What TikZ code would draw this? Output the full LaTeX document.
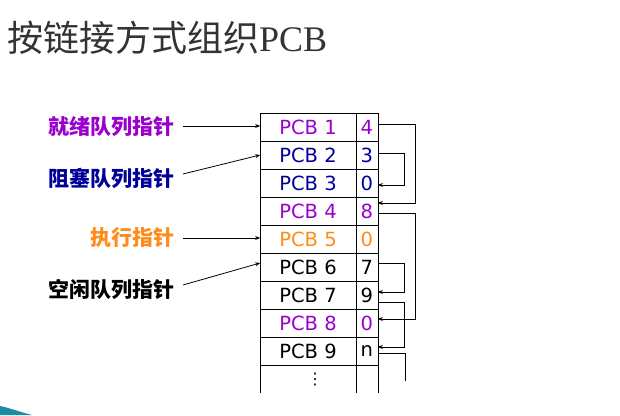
\documentclass[tikz,border=0pt]{standalone}
\usepackage{fontspec}
\setmainfont{DejaVu Sans}
\newfontfamily\cjk{Noto Sans CJK SC}
\newfontfamily\titleserif{Liberation Serif}
\usetikzlibrary{positioning,arrows.meta}
\definecolor{readyc}{HTML}{9900CC}
\definecolor{blockc}{HTML}{000099}
\definecolor{runc}{HTML}{FF8C1A}
\definecolor{titlec}{HTML}{333333}
\definecolor{slidec}{HTML}{1B8BA6}
\tikzstyle{pcbname} = [draw, minimum width=95.7pt, minimum height=28pt, inner sep=0pt, outer sep=0pt, font=\fontsize{19.5}{21}\selectfont]
\tikzstyle{pcbptr} = [draw, minimum width=22pt, minimum height=28pt, inner sep=0pt, outer sep=0pt, font=\fontsize{19.5}{21}\selectfont]
\tikzstyle{qlabel} = [anchor=east, inner sep=0pt, font=\cjk\bfseries\fontsize{21}{23}\selectfont]
\tikzstyle{link} = [-{Stealth[length=5pt,width=4pt]}, line width=0.8pt]

\begin{document}
\begin{tikzpicture}[x=1pt, y=1pt]
\useasboundingbox (0,0) rectangle (620,415);
% slide corner
\fill[slidec] (0,0) -- (0,9) .. controls (10,7) and (20,3) .. (32,0) -- cycle;
% title
\node[anchor=west, inner sep=0pt, text=titlec, font=\fontsize{36}{40}\selectfont]
    (title) at (7,377) {\cjk 按链接方式组织\titleserif PCB};

% PCB table
\node[pcbname, text=readyc] (n1) at (308,288) {PCB 1};
\node[pcbptr, text=readyc, right=0pt of n1] (p1) {4};
\node[pcbname, text=blockc, below=0pt of n1] (n2) {PCB 2};
\node[pcbptr, text=blockc, right=0pt of n2] (p2) {3};
\node[pcbname, text=blockc, below=0pt of n2] (n3) {PCB 3};
\node[pcbptr, text=blockc, right=0pt of n3] (p3) {0};
\node[pcbname, text=readyc, below=0pt of n3] (n4) {PCB 4};
\node[pcbptr, text=readyc, right=0pt of n4] (p4) {8};
\node[pcbname, text=runc, below=0pt of n4] (n5) {PCB 5};
\node[pcbptr, text=runc, right=0pt of n5] (p5) {0};
\node[pcbname, below=0pt of n5] (n6) {PCB 6};
\node[pcbptr, right=0pt of n6] (p6) {7};
\node[pcbname, below=0pt of n6] (n7) {PCB 7};
\node[pcbptr, right=0pt of n7] (p7) {9};
\node[pcbname, text=readyc, below=0pt of n7] (n8) {PCB 8};
\node[pcbptr, text=readyc, right=0pt of n8] (p8) {0};
\node[pcbname, below=0pt of n8] (n9) {PCB 9};
\node[pcbptr, right=0pt of n9] (p9) {n};
\node[below=0pt of n9, minimum height=28pt, inner sep=0pt, xshift=7pt,
    font=\fontsize{16}{18}\selectfont] (more) {⋮};
\draw (n9.south west) -- ++(0,-28);
\draw (n9.south east) -- ++(0,-28);
\draw (p9.south east) -- ++(0,-28);

% queue pointers
\node[qlabel, text=readyc] (ready) at (175,288) {就绪队列指针};
\node[qlabel, text=blockc] (block) at (175,237) {阻塞队列指针};
\node[qlabel, text=runc] (run) at (175,177) {执行指针};
\node[qlabel] (free) at (175,125) {空闲队列指针};
\draw[link] ([xshift=8pt,yshift=1pt]ready.east) -- ([yshift=1pt]n1.west);
\draw[link] ([xshift=8pt,yshift=4pt]block.east) -- (n2.west);
\draw[link] ([xshift=8pt]run.east) -- ([yshift=1pt]n5.west);
\draw[link] ([xshift=8pt,yshift=5pt]free.east) -- ([yshift=4pt]n6.west);

% links between PCBs
\draw[link] ([yshift=3pt]p1.east) -- ++(38,0) |- ([yshift=8pt]p4.east);
\draw[link] ([yshift=2pt]p2.east) -- ++(27,0) |- ([yshift=-2pt]p3.east);
\draw[link] ([yshift=-2pt]p4.east) -- ++(38,0) |- ([yshift=4pt]p8.east);
\draw[link] ([yshift=4pt]p6.east) -- ++(27,0) |- ([yshift=3pt]p7.east);
\draw[link] ([yshift=-7pt]p7.east) -- ++(27,0) |- ([yshift=4pt]p9.east);
\coordinate (tail) at (405,34);
\draw[line width=0.8pt] ([yshift=-2pt]p9.east) -| (tail);
\end{tikzpicture}
\end{document}
